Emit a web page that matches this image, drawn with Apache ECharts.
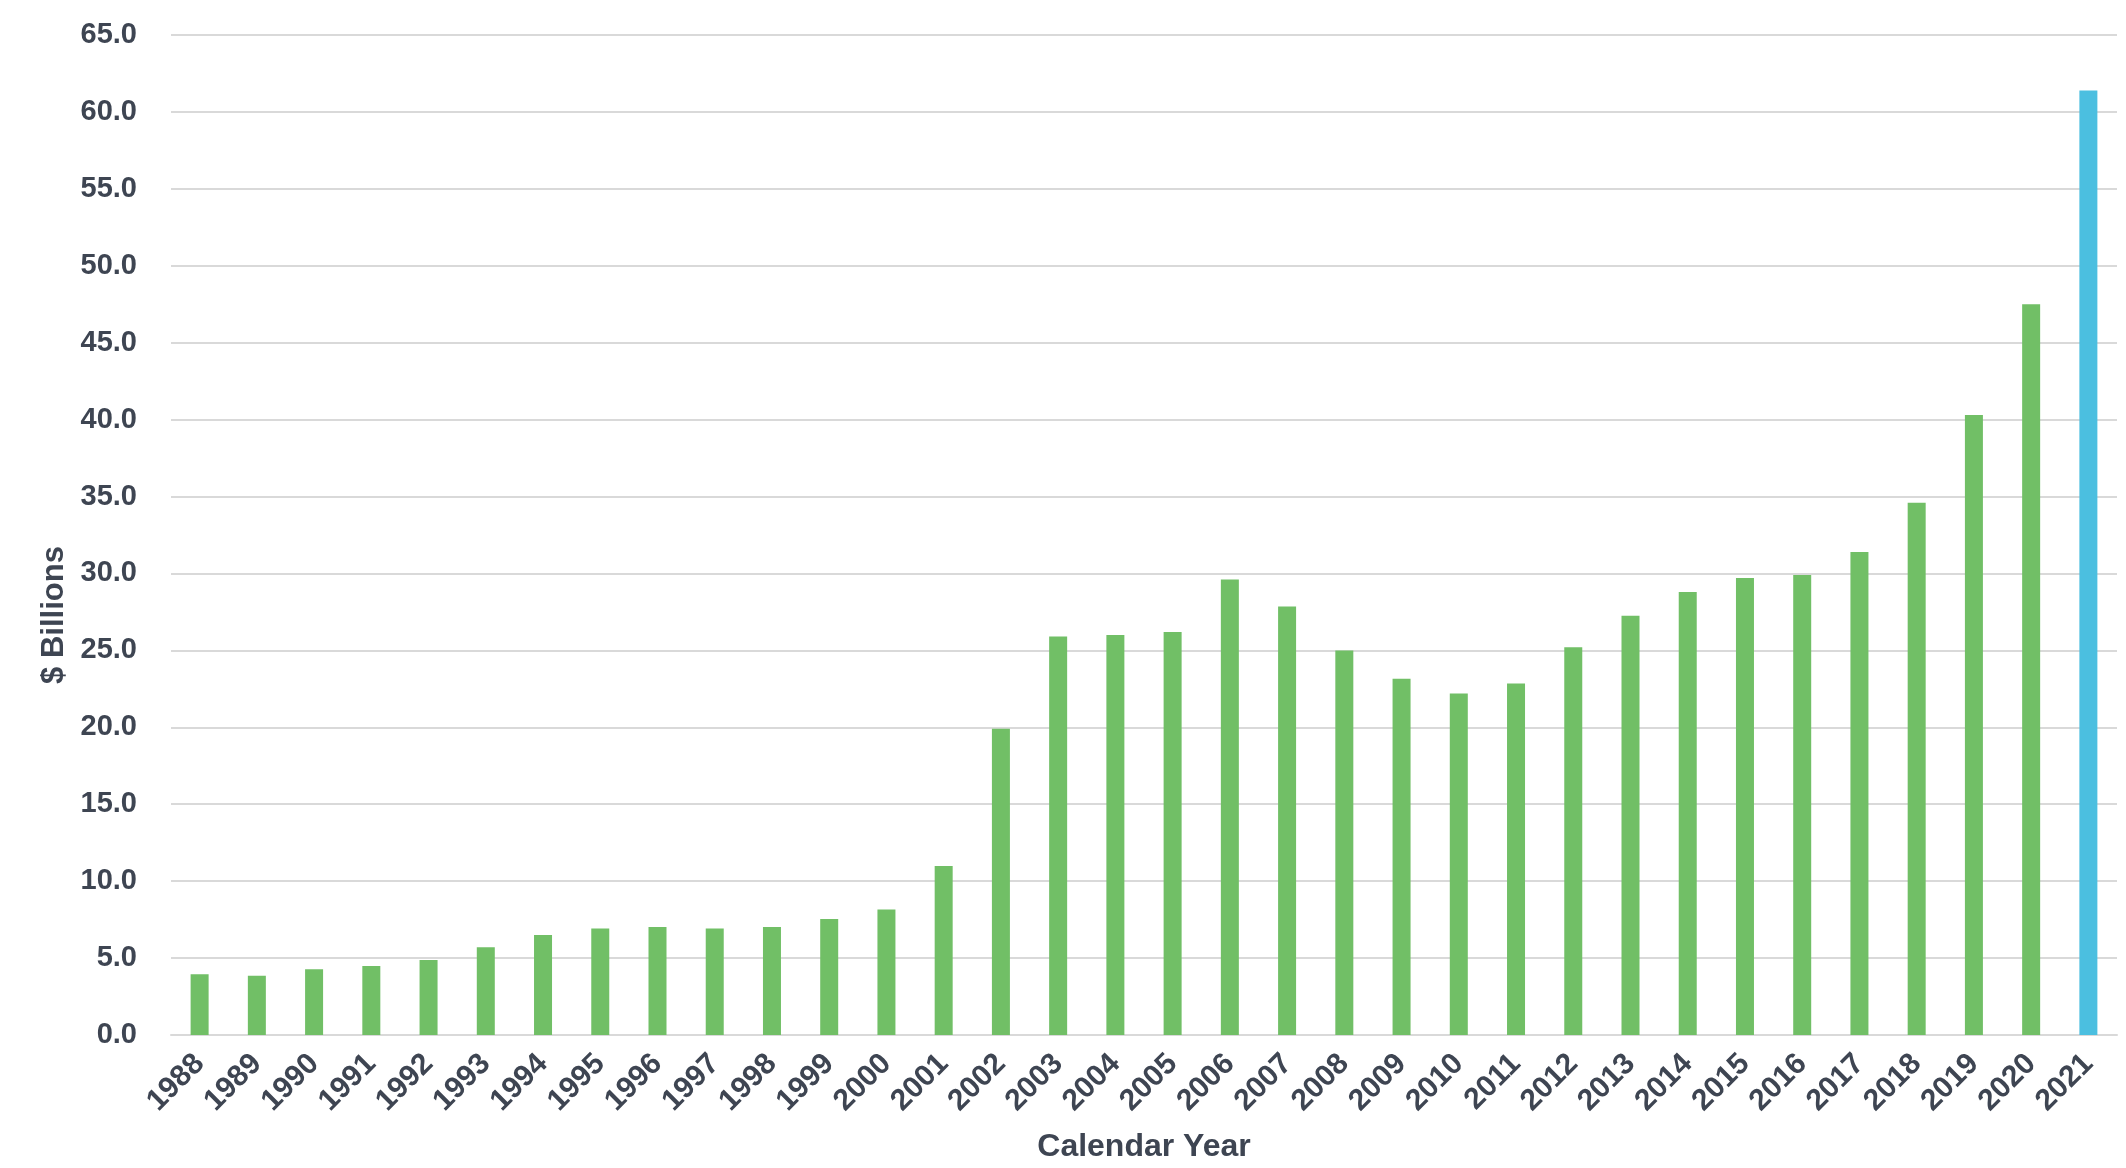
<!DOCTYPE html>
<html>
<head>
<meta charset="utf-8">
<script src="https://cdn.jsdelivr.net/npm/echarts@6/dist/echarts.min.js"></script>
<style>
html,body{margin:0;padding:0;background:#fff;}
#chart{width:2126px;height:1168px;}
</style>
</head>
<body>
<div id="chart"></div>
<script>
const years = ['1988','1989','1990','1991','1992','1993','1994','1995','1996','1997','1998','1999','2000','2001','2002','2003','2004','2005','2006','2007','2008','2009','2010','2011','2012','2013','2014','2015','2016','2017','2018','2019','2020','2021'];
const values = [3.95,3.85,4.28,4.48,4.88,5.7,6.5,6.93,7.02,6.93,7.02,7.54,8.15,10.98,19.9,25.9,26.0,26.2,29.6,27.85,25.0,23.15,22.2,22.85,25.2,27.25,28.8,29.7,29.9,31.4,34.6,40.3,47.5,61.4];
const highlightYear = '2021';
const yTicks = {min: 0, max: 65, interval: 5};

const GREEN = '#71BF66';
const BLUE = '#4BBFE0';
const TEXT = '#3E4552';
const FONT = 'Liberation Sans, Arial, sans-serif';

const chart = echarts.init(document.getElementById('chart'), null, {renderer: 'canvas'});
chart.setOption({
  animation: false,
  backgroundColor: '#ffffff',
  grid: {left: 171, right: 9, top: 35, bottom: 131, containLabel: false},
  xAxis: {
    type: 'category',
    data: years,
    name: 'Calendar Year',
    nameLocation: 'middle',
    nameGap: 96,
    nameTextStyle: {color: TEXT, fontFamily: FONT, fontWeight: 'bold', fontSize: 32},
    axisLine: {show: true, lineStyle: {color: '#D9D9D9', width: 2}},
    axisTick: {show: false},
    axisLabel: {
      rotate: 45, interval: 0, margin: 24,
      color: TEXT, fontFamily: FONT, fontWeight: 'bold', fontSize: 30
    }
  },
  yAxis: {
    type: 'value',
    min: yTicks.min, max: yTicks.max, interval: yTicks.interval,
    name: '$ Billions',
    nameLocation: 'middle',
    nameGap: 90,
    nameRotate: 90,
    nameTextStyle: {color: TEXT, fontFamily: FONT, fontWeight: 'bold', fontSize: 31, padding: [0, 160, 0, 0]},
    axisLine: {show: false},
    axisTick: {show: false},
    axisLabel: {
      margin: 34,
      formatter: v => v.toFixed(1),
      color: TEXT, fontFamily: FONT, fontWeight: 'bold', fontSize: 29
    },
    splitLine: {show: true, lineStyle: {color: '#D9D9D9', width: 2}}
  },
  series: [{
    type: 'bar',
    barWidth: 18,
    data: values.map((v, i) => ({
      value: v,
      itemStyle: {color: years[i] === highlightYear ? BLUE : GREEN}
    }))
  }]
});
</script>
</body>
</html>
